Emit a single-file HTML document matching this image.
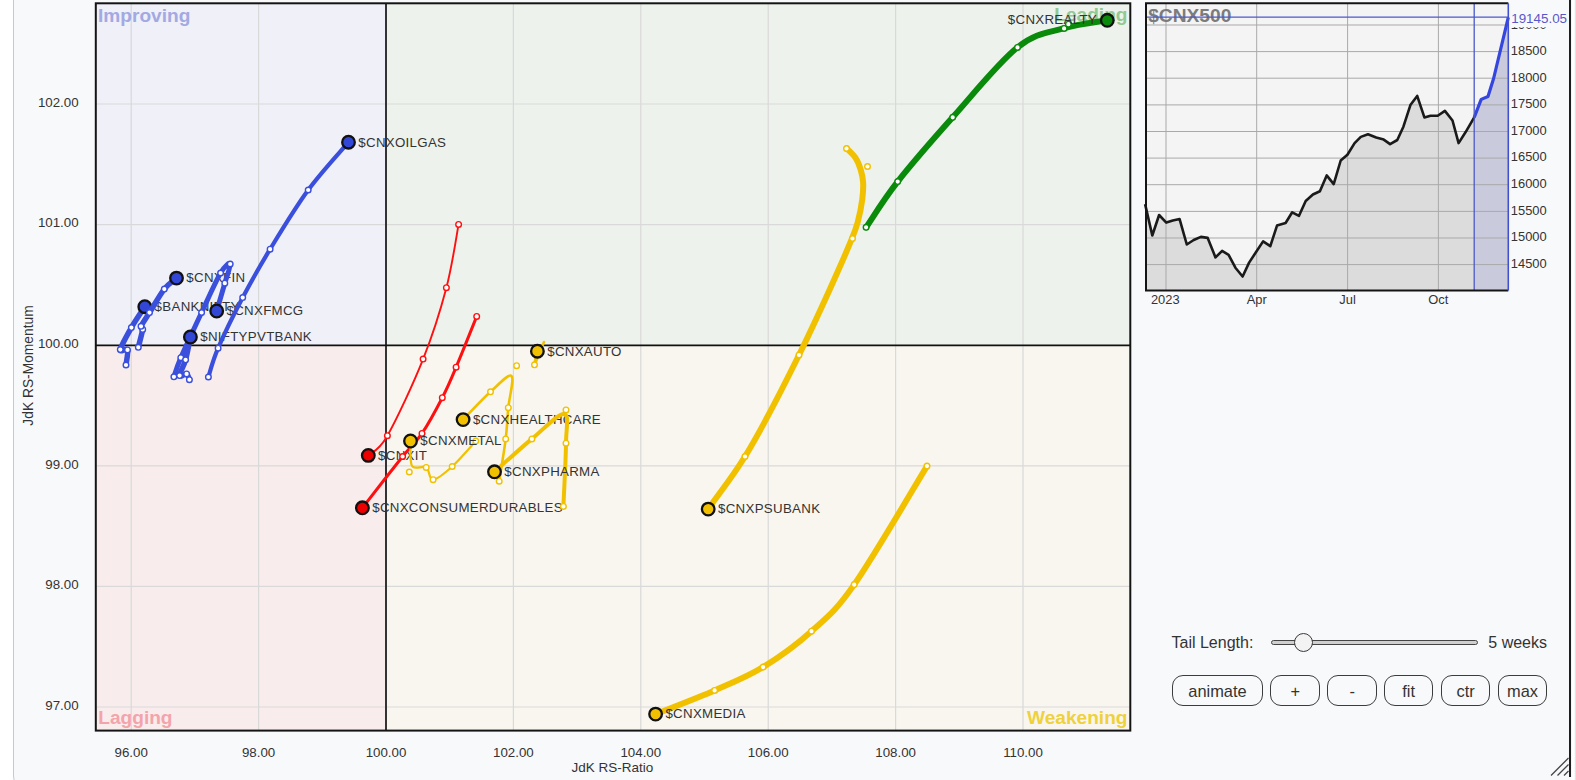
<!DOCTYPE html><html><head><meta charset="utf-8"><style>
html,body{margin:0;padding:0;width:1576px;height:780px;overflow:hidden;background:#fff;}
svg{display:block;position:absolute;left:0;top:0;}
text{font-family:"Liberation Sans",sans-serif;}
.ctl{position:absolute;font-family:"Liberation Sans",sans-serif;color:#333;font-size:16px;}
.btn{position:absolute;top:675.2px;height:28.4px;border:1px solid #3c3c3c;border-radius:11px;box-sizing:content-box;font-family:"Liberation Sans",sans-serif;font-size:16.4px;color:#333;text-align:center;line-height:30.4px;background:#f8f9fa;}
</style></head><body>
<svg width="1576" height="780" viewBox="0 0 1576 780">
<rect x="0" y="0" width="1576" height="780" fill="#ffffff"/>
<path d="M13.5,-10 L13.5,776 Q13.5,790 27.5,790 L1575,790 L1575,-10 Z" fill="#f8f9fb" stroke="#c9c9c9" stroke-width="1"/>
<rect x="1569" y="0" width="2.2" height="777" fill="#1e1e1e"/>
<rect x="1571.2" y="0" width="3.6" height="780" fill="#ffffff"/>
<g stroke="#444" stroke-width="1.3"><line x1="1551" y1="775.5" x2="1568.5" y2="758"/><line x1="1557.5" y1="775.5" x2="1568.5" y2="764.5"/><line x1="1564" y1="775.5" x2="1568.5" y2="771"/></g>
<rect x="95.8" y="3.3" width="290.2" height="342.1" fill="#eff0f8"/>
<rect x="386" y="3.3" width="744.3" height="342.1" fill="#edf2ec"/>
<rect x="95.8" y="345.4" width="290.2" height="385.2" fill="#f9ecec"/>
<rect x="386" y="345.4" width="744.3" height="385.2" fill="#f8f6ef"/>
<g stroke="#d9d9d9" stroke-width="1.2"><line x1="131.2" y1="3.3" x2="131.2" y2="730.6"/><line x1="258.6" y1="3.3" x2="258.6" y2="730.6"/><line x1="513.4" y1="3.3" x2="513.4" y2="730.6"/><line x1="640.8" y1="3.3" x2="640.8" y2="730.6"/><line x1="768.2" y1="3.3" x2="768.2" y2="730.6"/><line x1="895.6" y1="3.3" x2="895.6" y2="730.6"/><line x1="1023" y1="3.3" x2="1023" y2="730.6"/><line x1="95.8" y1="104" x2="1130.3" y2="104"/><line x1="95.8" y1="224.6" x2="1130.3" y2="224.6"/><line x1="95.8" y1="465.8" x2="1130.3" y2="465.8"/><line x1="95.8" y1="586.4" x2="1130.3" y2="586.4"/><line x1="95.8" y1="707" x2="1130.3" y2="707"/></g>
<g font-weight="bold" font-size="19.1">
<text x="98" y="22.4" fill="#a3a9e2">Improving</text>
<text x="1127.5" y="21.3" fill="#93c993" text-anchor="end">Leading</text>
<text x="98.3" y="723.6" fill="#f3a4ab">Lagging</text>
<text x="1127.5" y="724.2" fill="#efd13c" text-anchor="end">Weakening</text>
</g>
<line x1="386" y1="3.3" x2="386" y2="730.6" stroke="#2a2a2a" stroke-width="1.9"/>
<line x1="95.8" y1="345.4" x2="1130.3" y2="345.4" stroke="#111" stroke-width="1.6"/>
<rect x="95.8" y="3.3" width="1034.5" height="727.3" fill="none" stroke="#141414" stroke-width="2"/>
<g font-size="13.3" fill="#333"><text x="131.2" y="757" text-anchor="middle">96.00</text><text x="258.6" y="757" text-anchor="middle">98.00</text><text x="386" y="757" text-anchor="middle">100.00</text><text x="513.4" y="757" text-anchor="middle">102.00</text><text x="640.8" y="757" text-anchor="middle">104.00</text><text x="768.2" y="757" text-anchor="middle">106.00</text><text x="895.6" y="757" text-anchor="middle">108.00</text><text x="1023" y="757" text-anchor="middle">110.00</text><text x="78.6" y="106.8" text-anchor="end">102.00</text><text x="78.6" y="227.4" text-anchor="end">101.00</text><text x="78.6" y="348" text-anchor="end">100.00</text><text x="78.6" y="468.6" text-anchor="end">99.00</text><text x="78.6" y="589.2" text-anchor="end">98.00</text><text x="78.6" y="709.8" text-anchor="end">97.00</text></g>
<text x="612.3" y="771.8" text-anchor="middle" font-size="13.5" fill="#333">JdK RS-Ratio</text>
<text transform="translate(33.2,365.5) rotate(-90)" text-anchor="middle" font-size="13.8" fill="#333">JdK RS-Momentum</text>
<path d="M866.1,227.3 C871.4,219.7 883.3,199.9 897.7,181.6 C912.1,163.3 932.7,139.7 952.7,117.3 C972.7,94.9 998.9,62.2 1017.5,47.4 C1036.1,32.5 1049.1,32.7 1064.1,28.2 C1079.1,23.7 1100.1,21.6 1107.3,20.3" fill="none" stroke="#0a8a0a" stroke-width="6" stroke-linecap="round" stroke-linejoin="round"/>
<g fill="#fff" stroke="#0a8a0a" stroke-width="1.4"><circle cx="866.1" cy="227.3" r="2.8"/><circle cx="897.7" cy="181.6" r="2.8"/><circle cx="952.7" cy="117.3" r="2.8"/><circle cx="1017.5" cy="47.4" r="2.8"/><circle cx="1064.1" cy="28.4" r="2.8"/><circle cx="1068.4" cy="24.2" r="2.8"/></g>
<circle cx="1107.3" cy="20.3" r="6.3" fill="#0a8a0a" stroke="#111" stroke-width="2.3"/>
<text x="1097" y="23.9" font-size="13.3" letter-spacing="0.3" fill="#333" text-anchor="end">$CNXREALTY</text>
<path d="M846.9,148.5 C849.7,151.6 853.1,154.2 855.4,157.7 C857.8,161.3 859.5,165.8 860.8,170 C862,174 862.8,177.9 863.1,182.3 C863.5,187.5 863,193.2 862.3,199.2 C861.4,206.3 859.6,215.4 857.7,222.3 C856.1,228 855.3,230.3 852.3,237.7 C843.9,258.6 817.4,317.6 799,355 C781.6,390.3 762.1,428.6 745,456.5 C732.2,477.3 720.5,491.6 708.2,509.1" fill="none" stroke="#f1c100" stroke-width="6" stroke-linecap="round" stroke-linejoin="round"/>
<g fill="#fff" stroke="#f1c100" stroke-width="1.4"><circle cx="846.5" cy="148.5" r="2.8"/><circle cx="867.5" cy="166.5" r="2.8"/><circle cx="852.5" cy="238.5" r="2.8"/><circle cx="799" cy="355" r="2.8"/><circle cx="745" cy="456.5" r="2.8"/></g>
<circle cx="708.2" cy="509.1" r="6.3" fill="#f1c000" stroke="#111" stroke-width="2.3"/>
<text x="718" y="513.4" font-size="13.3" letter-spacing="0.3" fill="#333">$CNXPSUBANK</text>
<path d="M927,466.1 C914.9,485.9 873.5,557.1 854.2,584.6 C835,612.1 826.7,617.5 811.5,631.2 C796.3,645 779.2,657.2 763.1,667.1 C747,677 732.5,682.6 714.6,690.4 C696.7,698.2 665.4,710.1 655.6,714.1" fill="none" stroke="#f1c100" stroke-width="6" stroke-linecap="round" stroke-linejoin="round"/>
<g fill="#fff" stroke="#f1c100" stroke-width="1.4"><circle cx="927" cy="466.1" r="2.8"/><circle cx="854.2" cy="584.6" r="2.8"/><circle cx="811.5" cy="631.2" r="2.8"/><circle cx="763.1" cy="667.1" r="2.8"/><circle cx="714.6" cy="690.4" r="2.8"/></g>
<circle cx="655.6" cy="714.1" r="6.3" fill="#f1c000" stroke="#111" stroke-width="2.3"/>
<text x="665.4" y="718.4" font-size="13.3" letter-spacing="0.3" fill="#333">$CNXMEDIA</text>
<path d="M126,365 C126.2,362.5 128.4,352.5 127.5,349.9 C126.5,347.3 119.6,353.3 120.3,349.6 C121,345.9 127.3,334.8 131.4,327.6 C135.5,320.5 142.6,310.2 144.8,306.7" fill="none" stroke="#3a4fdc" stroke-width="5.5" stroke-linecap="round" stroke-linejoin="round"/>
<g fill="#fff" stroke="#3a4fdc" stroke-width="1.4"><circle cx="126" cy="365" r="2.8"/><circle cx="127.5" cy="349.9" r="2.8"/><circle cx="120.3" cy="349.6" r="2.8"/><circle cx="131.4" cy="327.6" r="2.8"/></g>
<circle cx="144.8" cy="306.7" r="6.3" fill="#3347d6" stroke="#111" stroke-width="2.3"/>
<text x="154.6" y="311" font-size="13.3" letter-spacing="0.3" fill="#333">$BANKNIFTY</text>
<path d="M138.3,347.3 C139,344.3 142.2,332.9 142.7,329.4 C143.1,325.9 139.9,329.1 141,326.3 C142.1,323.5 145.6,318.8 149.5,312.6 C153.4,306.4 159.8,294.9 164.3,289.1 C168.8,283.4 174.5,279.9 176.5,278.1" fill="none" stroke="#3a4fdc" stroke-width="5.5" stroke-linecap="round" stroke-linejoin="round"/>
<g fill="#fff" stroke="#3a4fdc" stroke-width="1.4"><circle cx="138.3" cy="347.3" r="2.8"/><circle cx="142.7" cy="329.4" r="2.8"/><circle cx="141" cy="326.3" r="2.8"/><circle cx="149.5" cy="312.6" r="2.8"/><circle cx="164.3" cy="289.1" r="2.8"/></g>
<circle cx="176.5" cy="278.1" r="6.3" fill="#3347d6" stroke="#111" stroke-width="2.3"/>
<text x="186.3" y="282.4" font-size="13.3" letter-spacing="0.3" fill="#333">$CNXFIN</text>
<path d="M173.9,376.8 C175.1,373.6 176.2,368.4 180.8,357.7 C185.4,347 195,326.6 201.6,312.5 C208.2,298.4 215.8,281.1 220.6,273 C225.4,264.9 229.5,262.3 230.2,264 C230.9,265.7 227.1,275.4 224.8,283.2 C222.6,291 218,306.4 216.7,311" fill="none" stroke="#3a4fdc" stroke-width="5" stroke-linecap="round" stroke-linejoin="round"/>
<g fill="#fff" stroke="#3a4fdc" stroke-width="1.4"><circle cx="173.9" cy="376.8" r="2.8"/><circle cx="180.8" cy="357.7" r="2.8"/><circle cx="201.6" cy="312.5" r="2.8"/><circle cx="220.6" cy="273" r="2.8"/><circle cx="230.2" cy="264" r="2.8"/><circle cx="224.8" cy="283.2" r="2.8"/></g>
<circle cx="216.7" cy="311" r="6.3" fill="#3347d6" stroke="#111" stroke-width="2.3"/>
<text x="226.5" y="315.3" font-size="13.3" letter-spacing="0.3" fill="#333">$CNXFMCG</text>
<path d="M189.4,379.7 C188.9,378.7 188.2,374.6 186.6,373.9 C185,373.2 179.8,378 179.6,375.6 C179.4,373.2 183.8,366.2 185.6,359.8 C187.4,353.4 189.6,340.8 190.4,337" fill="none" stroke="#3a4fdc" stroke-width="5.5" stroke-linecap="round" stroke-linejoin="round"/>
<g fill="#fff" stroke="#3a4fdc" stroke-width="1.4"><circle cx="189.4" cy="379.7" r="2.8"/><circle cx="186.6" cy="373.9" r="2.8"/><circle cx="179.6" cy="375.6" r="2.8"/><circle cx="185.6" cy="359.8" r="2.8"/></g>
<circle cx="190.4" cy="337" r="6.3" fill="#3347d6" stroke="#111" stroke-width="2.3"/>
<text x="200.2" y="341.3" font-size="13.3" letter-spacing="0.3" fill="#333">$NIFTYPVTBANK</text>
<path d="M208.4,377 C210,372.2 212.4,361.4 218.1,348.2 C223.8,335 234,314.1 242.7,297.6 C251.4,281.1 259.2,267.1 270.1,249.2 C281,231.3 295.1,207.8 308.2,190 C321.3,172.2 341.8,150.2 348.5,142.2" fill="none" stroke="#3a4fdc" stroke-width="4.2" stroke-linecap="round" stroke-linejoin="round"/>
<g fill="#fff" stroke="#3a4fdc" stroke-width="1.4"><circle cx="208.4" cy="377" r="2.8"/><circle cx="218.1" cy="348.2" r="2.8"/><circle cx="242.7" cy="297.6" r="2.8"/><circle cx="270.1" cy="249.2" r="2.8"/><circle cx="308.2" cy="190" r="2.8"/></g>
<circle cx="348.5" cy="142.2" r="6.3" fill="#3347d6" stroke="#111" stroke-width="2.3"/>
<text x="358.3" y="146.5" font-size="13.3" letter-spacing="0.3" fill="#333">$CNXOILGAS</text>
<path d="M458.6,224.4 C456.6,234.9 452.3,265.2 446.4,287.7 C440.5,310.1 432.9,334.4 423.1,359.1 C413.3,383.8 396.5,419.6 387.4,435.7 C378.3,451.8 371.5,452.1 368.3,455.4" fill="none" stroke="#ff1010" stroke-width="1.9" stroke-linecap="round" stroke-linejoin="round"/>
<g fill="#fff" stroke="#ff1010" stroke-width="1.4"><circle cx="458.6" cy="224.4" r="2.8"/><circle cx="446.4" cy="287.7" r="2.8"/><circle cx="423.1" cy="359.1" r="2.8"/><circle cx="387.4" cy="435.7" r="2.8"/></g>
<circle cx="368.3" cy="455.4" r="6.3" fill="#ee0000" stroke="#111" stroke-width="2.3"/>
<text x="378.1" y="459.7" font-size="13.3" letter-spacing="0.3" fill="#333">$CNXIT</text>
<path d="M476.7,316.4 C473.3,324.9 461.8,353.6 456.1,367.2 C450.4,380.8 448,386.7 442.3,397.7 C436.6,408.7 428.6,423.6 422,433.4 C415.4,443.2 412.5,444.1 402.6,456.5 C392.7,468.9 369.1,499.2 362.4,507.8" fill="none" stroke="#ff1010" stroke-width="3" stroke-linecap="round" stroke-linejoin="round"/>
<g fill="#fff" stroke="#ff1010" stroke-width="1.4"><circle cx="476.7" cy="316.4" r="2.8"/><circle cx="456.1" cy="367.2" r="2.8"/><circle cx="442.3" cy="397.7" r="2.8"/><circle cx="422" cy="433.4" r="2.8"/><circle cx="402.6" cy="456.5" r="2.8"/></g>
<circle cx="362.4" cy="507.8" r="6.3" fill="#ee0000" stroke="#111" stroke-width="2.3"/>
<text x="372.2" y="512.1" font-size="13.3" letter-spacing="0.3" fill="#333">$CNXCONSUMERDURABLES</text>
<path d="M475.8,441.1 C471.9,445.3 459.3,460.1 452.2,466.5 C445.1,472.9 437.4,479.6 433.1,479.7 C428.8,479.8 429.7,469.7 426.2,467.4 C422.7,465.1 414.6,470.4 412,466 C409.4,461.6 410.8,445.2 410.5,441" fill="none" stroke="#f1c100" stroke-width="2.2" stroke-linecap="round" stroke-linejoin="round"/>
<g fill="#fff" stroke="#f1c100" stroke-width="1.4"><circle cx="475.8" cy="441.1" r="2.8"/><circle cx="452.2" cy="466.5" r="2.8"/><circle cx="433.1" cy="479.7" r="2.8"/><circle cx="426.2" cy="467.4" r="2.8"/><circle cx="409.3" cy="472" r="2.8"/></g>
<circle cx="410.5" cy="441" r="6.3" fill="#f1c000" stroke="#111" stroke-width="2.3"/>
<text x="420.3" y="445.3" font-size="13.3" letter-spacing="0.3" fill="#333">$CNXMETAL</text>
<path d="M499.2,481.2 C500.3,474.1 504.2,451.1 505.7,438.9 C507.2,426.6 507.3,418.2 508.3,407.7 C509.3,397.2 514.5,378.6 511.5,376 C508.5,373.4 498.6,384.5 490.5,391.8 C482.4,399.1 467.7,415 463.1,419.6" fill="none" stroke="#f1c100" stroke-width="2.6" stroke-linecap="round" stroke-linejoin="round"/>
<g fill="#fff" stroke="#f1c100" stroke-width="1.4"><circle cx="499.2" cy="481.2" r="2.8"/><circle cx="505.7" cy="438.9" r="2.8"/><circle cx="508.3" cy="407.7" r="2.8"/><circle cx="516.6" cy="365.7" r="2.8"/><circle cx="490.5" cy="391.8" r="2.8"/></g>
<circle cx="463.1" cy="419.6" r="6.3" fill="#f1c000" stroke="#111" stroke-width="2.3"/>
<text x="472.9" y="423.9" font-size="13.3" letter-spacing="0.3" fill="#333">$CNXHEALTHCARE</text>
<path d="M563.4,506.4 C563.8,495.9 565.9,458.6 566,443.2 C566.1,427.8 569.7,414.7 564,414 C558.3,413.3 543.5,429.3 531.9,438.9 C520.3,448.5 500.7,466.3 494.5,471.8" fill="none" stroke="#f1c100" stroke-width="4" stroke-linecap="round" stroke-linejoin="round"/>
<g fill="#fff" stroke="#f1c100" stroke-width="1.4"><circle cx="563.4" cy="506.4" r="2.8"/><circle cx="566" cy="443.2" r="2.8"/><circle cx="566" cy="409.9" r="2.8"/><circle cx="531.9" cy="438.9" r="2.8"/></g>
<circle cx="494.5" cy="471.8" r="6.3" fill="#f1c000" stroke="#111" stroke-width="2.3"/>
<text x="504.3" y="476.1" font-size="13.3" letter-spacing="0.3" fill="#333">$CNXPHARMA</text>
<path d="M544,342 C542.4,345.8 535.6,363.3 534.5,364.8 C533.4,366.3 536.9,353.5 537.4,351.2" fill="none" stroke="#f1c100" stroke-width="2.5" stroke-linecap="round" stroke-linejoin="round"/>
<g fill="#fff" stroke="#f1c100" stroke-width="1.4"><circle cx="534.5" cy="364.8" r="2.8"/></g>
<circle cx="537.4" cy="351.2" r="6.3" fill="#f1c000" stroke="#111" stroke-width="2.3"/>
<text x="547.2" y="355.5" font-size="13.3" letter-spacing="0.3" fill="#333">$CNXAUTO</text>
<rect x="1146" y="3.3" width="362.3" height="287.2" fill="#f4f4f4"/>
<polygon points="1145.1,204.1 1152.3,235.5 1159.1,215 1166.3,222.6 1172.8,220.5 1179.6,219.1 1186.8,244.5 1193.7,240 1200.9,236.9 1207.7,237.9 1215.5,257.4 1222.1,250.9 1228.6,254.8 1235.4,267.7 1242.6,276.5 1249.1,262.6 1255.9,252.3 1263.1,241.4 1270.3,246.2 1277,225.6 1285.6,223 1292.2,212.3 1299,215.8 1305.7,201 1312.9,194.5 1319.9,191.2 1326.7,175.4 1333.7,184.1 1340.7,160.5 1347.4,154.8 1354.6,143.1 1360.8,136.9 1368,134.3 1376.2,137.5 1383.7,139.6 1390.1,144.1 1397.3,140 1403.4,126.7 1410.4,105.1 1417.2,95.9 1424.4,117.4 1430.5,115.8 1437.7,115.8 1444.9,110.9 1452.5,120.5 1458.6,143.1 1465.8,131.8 1474.2,117.4 1474.2,290.5 1146,290.5" fill="#dcdcdc"/>
<polygon points="1474.2,117.4 1481.2,99.4 1488,96.5 1493.6,78.5 1508.3,17.4 1508.3,290.5 1474.2,290.5" fill="#c9cbdc"/>
<g stroke="#a9a9a9" stroke-width="1"><line x1="1146" y1="25" x2="1508.3" y2="25"/><line x1="1146" y1="51.6" x2="1508.3" y2="51.6"/><line x1="1146" y1="78.2" x2="1508.3" y2="78.2"/><line x1="1146" y1="104.9" x2="1508.3" y2="104.9"/><line x1="1146" y1="131.5" x2="1508.3" y2="131.5"/><line x1="1146" y1="158.1" x2="1508.3" y2="158.1"/><line x1="1146" y1="184.7" x2="1508.3" y2="184.7"/><line x1="1146" y1="211.4" x2="1508.3" y2="211.4"/><line x1="1146" y1="238" x2="1508.3" y2="238"/><line x1="1146" y1="264.6" x2="1508.3" y2="264.6"/><line x1="1166" y1="3.3" x2="1166" y2="290.5"/><line x1="1256.7" y1="3.3" x2="1256.7" y2="290.5"/><line x1="1347.6" y1="3.3" x2="1347.6" y2="290.5"/><line x1="1438.4" y1="3.3" x2="1438.4" y2="290.5"/></g>
<text x="1148.2" y="21.9" font-size="19.2" font-weight="bold" fill="#7c7c7c">$CNX500</text>
<polyline points="1145.1,204.1 1152.3,235.5 1159.1,215 1166.3,222.6 1172.8,220.5 1179.6,219.1 1186.8,244.5 1193.7,240 1200.9,236.9 1207.7,237.9 1215.5,257.4 1222.1,250.9 1228.6,254.8 1235.4,267.7 1242.6,276.5 1249.1,262.6 1255.9,252.3 1263.1,241.4 1270.3,246.2 1277,225.6 1285.6,223 1292.2,212.3 1299,215.8 1305.7,201 1312.9,194.5 1319.9,191.2 1326.7,175.4 1333.7,184.1 1340.7,160.5 1347.4,154.8 1354.6,143.1 1360.8,136.9 1368,134.3 1376.2,137.5 1383.7,139.6 1390.1,144.1 1397.3,140 1403.4,126.7 1410.4,105.1 1417.2,95.9 1424.4,117.4 1430.5,115.8 1437.7,115.8 1444.9,110.9 1452.5,120.5 1458.6,143.1 1465.8,131.8 1474.2,117.4" fill="none" stroke="#1a1a1a" stroke-width="2.6" stroke-linejoin="round"/>
<polyline points="1474.2,117.4 1481.2,99.4 1488,96.5 1493.6,78.5 1508.3,17.4" fill="none" stroke="#3546de" stroke-width="3.2" stroke-linejoin="round"/>
<line x1="1474.2" y1="3.3" x2="1474.2" y2="290.5" stroke="#4a58c8" stroke-width="1.3"/>
<line x1="1146" y1="17.2" x2="1508.3" y2="17.2" stroke="#4a58d0" stroke-width="1.3"/>
<path d="M1508.3,3.3 L1146,3.3 L1146,290.5 L1508.3,290.5" fill="none" stroke="#141414" stroke-width="2"/>
<line x1="1508.3" y1="3.3" x2="1508.3" y2="290.5" stroke="#4050d0" stroke-width="1.6"/>
<g font-size="12.9" fill="#333"><text x="1510.8" y="54.9">18500</text><text x="1510.8" y="81.5">18000</text><text x="1510.8" y="108.2">17500</text><text x="1510.8" y="134.8">17000</text><text x="1510.8" y="161.4">16500</text><text x="1510.8" y="188">16000</text><text x="1510.8" y="214.7">15500</text><text x="1510.8" y="241.3">15000</text><text x="1510.8" y="267.9">14500</text></g>
<g><clipPath id="c19"><rect x="1510" y="27.2" width="50" height="4"/></clipPath><text x="1510.8" y="29.2" font-size="12.9" fill="#333" clip-path="url(#c19)">19000</text></g>
<text x="1511.2" y="23.2" font-size="13.4" fill="#5858cc">19145.05</text>
<g font-size="12.9" fill="#333" text-anchor="middle"><text x="1165.3" y="304">2023</text><text x="1256.7" y="304">Apr</text><text x="1347.6" y="304">Jul</text><text x="1438.3" y="304">Oct</text></g>
</svg>
<div class="ctl" style="left:1171.5px;top:633px;line-height:20px;">Tail Length:</div>
<div style="position:absolute;left:1271px;top:640px;width:205px;height:3px;border:1px solid #444;border-radius:3px;background:#cfcfcf;"></div>
<div style="position:absolute;left:1294px;top:633px;width:17px;height:17px;border:1px solid #3a3a3a;border-radius:50%;background:#f3f3f3;"></div>
<div class="ctl" style="left:1488.3px;top:633px;line-height:20px;">5 weeks</div>
<div class="btn" style="left:1172px;width:89px;">animate</div>
<div class="btn" style="left:1270.3px;width:48px;">+</div>
<div class="btn" style="left:1327.2px;width:48px;">-</div>
<div class="btn" style="left:1384.2px;width:47px;">fit</div>
<div class="btn" style="left:1441.2px;width:47px;">ctr</div>
<div class="btn" style="left:1498px;width:47px;">max</div>
</body></html>
